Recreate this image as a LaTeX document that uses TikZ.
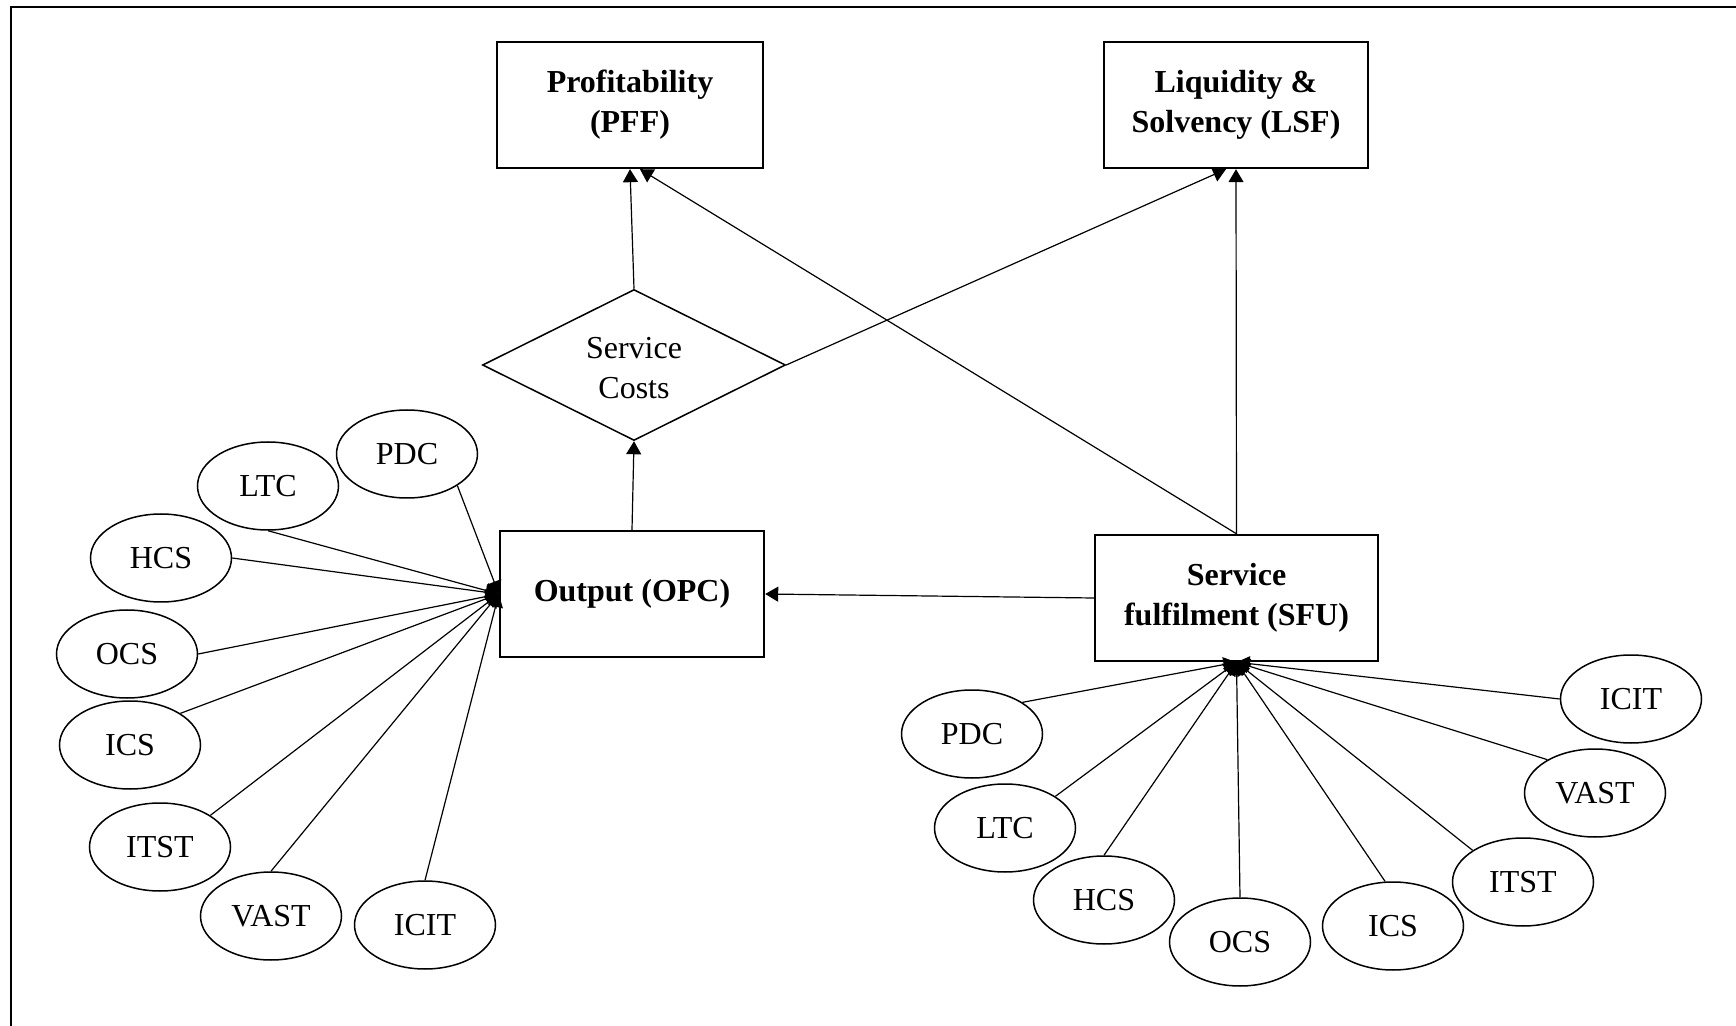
\documentclass[tikz,border=0pt]{standalone}
\usepackage{fontspec}
\setmainfont{Liberation Serif}
\usetikzlibrary{shapes.geometric,arrows.meta}

\tikzset{
  factor/.style={draw, line width=1.2pt, minimum height=63pt, inner sep=0pt,
    align=center, font=\fontsize{16}{20}\selectfont\bfseries},
  item/.style={draw, ellipse, line width=0.75pt, minimum width=70.5pt,
    minimum height=44pt, inner sep=0pt, font=\fontsize{16}{20}\selectfont},
  link/.style={line width=0.6pt, -{Triangle[length=6.5pt,width=7.5pt]}},
}

\begin{document}
\begin{tikzpicture}[x=0.5pt,y=-0.5pt]
  \useasboundingbox (0,0) rectangle (1736,1026);
  % outer frame (left and top edges)
  \draw[line width=1.4pt] (11,1030) -- (11,7) -- (1740,7);

  % main factors
  \node[factor, minimum width=133pt] (pff) at (630,105) {Profitability\\(PFF)};
  \node[factor, minimum width=132pt] (lsf) at (1236,105) {Liquidity \&\\Solvency (LSF)};
  \node[factor, minimum width=132pt] (opc) at (632,594) {Output (OPC)};
  \node[factor, minimum width=141.5pt] (sfu) at (1236.5,598) {Service\\fulfilment (SFU)};

  % service costs decision
  \node[draw, diamond, line width=0.75pt, minimum width=151.5pt,
        minimum height=75.5pt, inner sep=0pt] (sc) at (634,365) {};
  \node[align=center, font=\fontsize{16}{20}\selectfont] (sclabel) at (634,368) {Service\\Costs};

  % items feeding output
  \node[item] (lPDC)  at (407,454) {PDC};
  \node[item] (lLTC)  at (268,486) {LTC};
  \node[item] (lHCS)  at (161,558) {HCS};
  \node[item] (lOCS)  at (127,654) {OCS};
  \node[item] (lICS)  at (130,745) {ICS};
  \node[item] (lITST) at (160,847) {ITST};
  \node[item] (lVAST) at (271,916) {VAST};
  \node[item] (lICIT) at (425,925) {ICIT};

  % items feeding service fulfilment
  \node[item] (rPDC)  at (972,734) {PDC};
  \node[item] (rLTC)  at (1005,828) {LTC};
  \node[item] (rHCS)  at (1104,900) {HCS};
  \node[item] (rOCS)  at (1240,942) {OCS};
  \node[item] (rICS)  at (1393,926) {ICS};
  \node[item] (rITST) at (1523,882) {ITST};
  \node[item] (rVAST) at (1595,793) {VAST};
  \node[item] (rICIT) at (1631,699) {ICIT};

  % spokes into output
  \draw[link] (lPDC.south east) -- (opc.west);
  \draw[link] (lLTC.south) -- (opc.west);
  \draw[link] (lHCS.east) -- (opc.west);
  \draw[link] (lOCS.east) -- (opc.west);
  \draw[link] (lICS.north east) -- (opc.west);
  \draw[link] (lITST.north east) -- (opc.west);
  \draw[link] (lVAST.north) -- (opc.west);
  \draw[link] (lICIT.north) -- (opc.west);

  % spokes into service fulfilment
  \draw[link] (rPDC.north east) -- (sfu.south);
  \draw[link] (rLTC.north east) -- (sfu.south);
  \draw[link] (rHCS.north) -- (sfu.south);
  \draw[link] (rOCS.north) -- (sfu.south);
  \draw[link] (rICS.100) -- (sfu.south);
  \draw[link] (rITST.north west) -- (sfu.south);
  \draw[link] (rVAST.145) -- (sfu.south);
  \draw[link] (rICIT.west) -- (sfu.south);

  % relations between factors
  \draw[link] (opc.north) -- (sc.south);
  \draw[link] (sc.north) -- (pff.south);
  \draw[link] (sfu.north) -- ([xshift=5pt]pff.south);
  \draw[link] (sc.east) -- ([xshift=-5pt]lsf.south);
  \draw[link] (sfu.north) -- (lsf.south);
  \draw[link] (sfu.west) -- (opc.east);
\end{tikzpicture}
\end{document}
